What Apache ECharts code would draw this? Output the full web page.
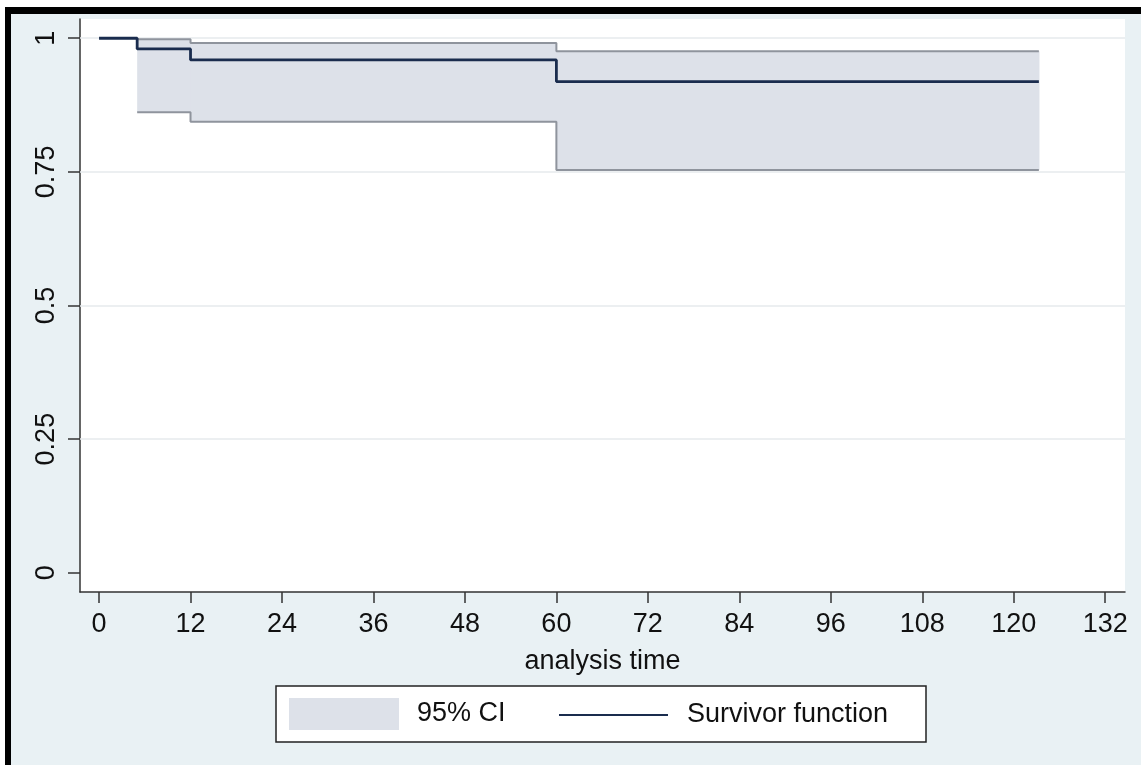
<!DOCTYPE html>
<html><head><meta charset="utf-8">
<script src="https://cdn.jsdelivr.net/npm/echarts@6/dist/echarts.min.js"></script>
<style>html,body{margin:0;padding:0;background:#fff}#c{width:1141px;height:765px}</style>
</head><body><div id="c"></div>
<script>
// ---- data ----
const kmTimes   = [0, 5, 12, 60, 123.3];
const survivor  = [1, 0.98, 0.9595, 0.919, 0.919];
const ciTimes   = [5, 12, 60, 123.3];
const ciUpper   = [0.998, 0.991, 0.9757, 0.9757];
const ciLower   = [0.8615, 0.844, 0.7534, 0.7534];
const xTicks    = [0, 12, 24, 36, 48, 60, 72, 84, 96, 108, 120, 132];
const yTicks    = [0, 0.25, 0.5, 0.75, 1];
const yGridAt   = [0.25, 0.5, 0.75, 1];
const seriesNames = ['95% CI', 'Survivor function'];
const xTitle    = 'analysis time';

const FONT = 'Liberation Sans, Arial, Helvetica, sans-serif';
const FS = 27;
const BAND = '#dde1e9';
const BAND_LINE = '#8f949d';
const NAVY = '#1a2c4e';
const BG = '#e9f1f4';

// band segments: [t_start, t_end, lower, upper]
const bandSegs = [];
for (let i = 0; i < ciTimes.length - 1; i++) {
  bandSegs.push([ciTimes[i], ciTimes[i + 1], ciLower[i], ciUpper[i]]);
}
const lowerData = ciTimes.map((t, i) => [t, ciLower[i]]);
const upperData = ciTimes.map((t, i) => [t, ciUpper[i]]);
const survData  = kmTimes.map((t, i) => [t, survivor[i]]);

const chart = echarts.init(document.getElementById('c'), null, {renderer: 'canvas'});
chart.setOption({
  animation: false,
  backgroundColor: BG,
  textStyle: {fontFamily: FONT},
  grid: {left: 80, right: 16, top: 19, bottom: 173, show: true, backgroundColor: '#fff', borderWidth: 0},
  xAxis: {
    type: 'value', min: -2.5, max: 134.6,
    name: xTitle, nameLocation: 'middle', nameGap: 56,
    nameTextStyle: {fontSize: FS, color: '#111', fontFamily: FONT},
    axisLine: {show: true, onZero: false, lineStyle: {color: '#333', width: 1.5}},
    axisTick: {show: true, length: 11, lineStyle: {color: '#333', width: 1.5}, customValues: xTicks},
    axisLabel: {fontSize: FS, color: '#111', margin: 19, customValues: xTicks, fontFamily: FONT},
    splitLine: {show: false}
  },
  yAxis: {
    type: 'value', min: -0.036, max: 1.036,
    axisLine: {show: true, onZero: false, lineStyle: {color: '#333', width: 1.5}},
    axisTick: {show: true, length: 12, lineStyle: {color: '#333', width: 1.5}, customValues: yTicks},
    axisLabel: {fontSize: FS, color: '#111', margin: 20, rotate: 90, customValues: yTicks, fontFamily: FONT},
    splitLine: {show: false}
  },
  legend: [
    {
      data: [{name: seriesNames[0], icon: 'rect', itemStyle: {color: BAND, borderWidth: 0}}],
      left: 289, top: 698, padding: 0, itemWidth: 110, itemHeight: 32, selectedMode: false,
      textStyle: {fontSize: FS, color: '#111', lineHeight: 30, padding: [0, 0, 0, 13], fontFamily: FONT}
    },
    {
      data: [{name: seriesNames[1], icon: 'rect', itemStyle: {color: NAVY, borderWidth: 0}}],
      left: 559, top: 700, padding: 0, itemWidth: 109, itemHeight: 2, selectedMode: false,
      textStyle: {fontSize: FS, color: '#111', lineHeight: 30, padding: [0, 0, 0, 14], fontFamily: FONT}
    }
  ],
  graphic: [
    {type: 'rect', z: -1, shape: {x: 276, y: 686, width: 650, height: 56}, style: {fill: '#fff', stroke: '#222', lineWidth: 1.5}},
    {type: 'rect', shape: {x: 0, y: 0, width: 1141, height: 7}, style: {fill: '#fff'}},
    {type: 'rect', shape: {x: 0, y: 0, width: 5, height: 765}, style: {fill: '#fff'}},
    {type: 'rect', shape: {x: 5, y: 7, width: 1136, height: 7}, style: {fill: '#000'}},
    {type: 'rect', shape: {x: 5, y: 7, width: 6, height: 758}, style: {fill: '#000'}}
  ],
  series: [
    {
      name: seriesNames[0], type: 'custom', data: bandSegs, silent: true,
      encode: {x: [0, 1], y: [2, 3]},
      itemStyle: {color: BAND},
      renderItem: function (params, api) {
        const p1 = api.coord([api.value(0), api.value(3)]);
        const p2 = api.coord([api.value(1), api.value(2)]);
        return {
          type: 'rect',
          shape: {x: p1[0], y: p1[1], width: p2[0] - p1[0] + 0.6, height: p2[1] - p1[1]},
          style: {fill: BAND}
        };
      },
      markLine: {
        z: 1, silent: true, symbol: 'none', label: {show: false},
        lineStyle: {color: '#e6eaec', width: 1.5, type: 'solid'},
        data: yGridAt.map(v => ({yAxis: v}))
      },
      z: 2
    },
    {
      name: 'ci-lower', type: 'line', step: 'end', data: lowerData,
      symbol: 'none', silent: true,
      lineStyle: {color: BAND_LINE, width: 2},
      itemStyle: {color: BAND_LINE},
      z: 3
    },
    {
      name: 'ci-upper', type: 'line', step: 'end', data: upperData,
      symbol: 'none', silent: true,
      lineStyle: {color: BAND_LINE, width: 2},
      itemStyle: {color: BAND_LINE},
      z: 3
    },
    {
      name: seriesNames[1], type: 'line', step: 'end', data: survData,
      symbol: 'none', silent: true,
      lineStyle: {color: NAVY, width: 2.8},
      itemStyle: {color: NAVY},
      z: 4
    }
  ]
});
</script></body></html>
